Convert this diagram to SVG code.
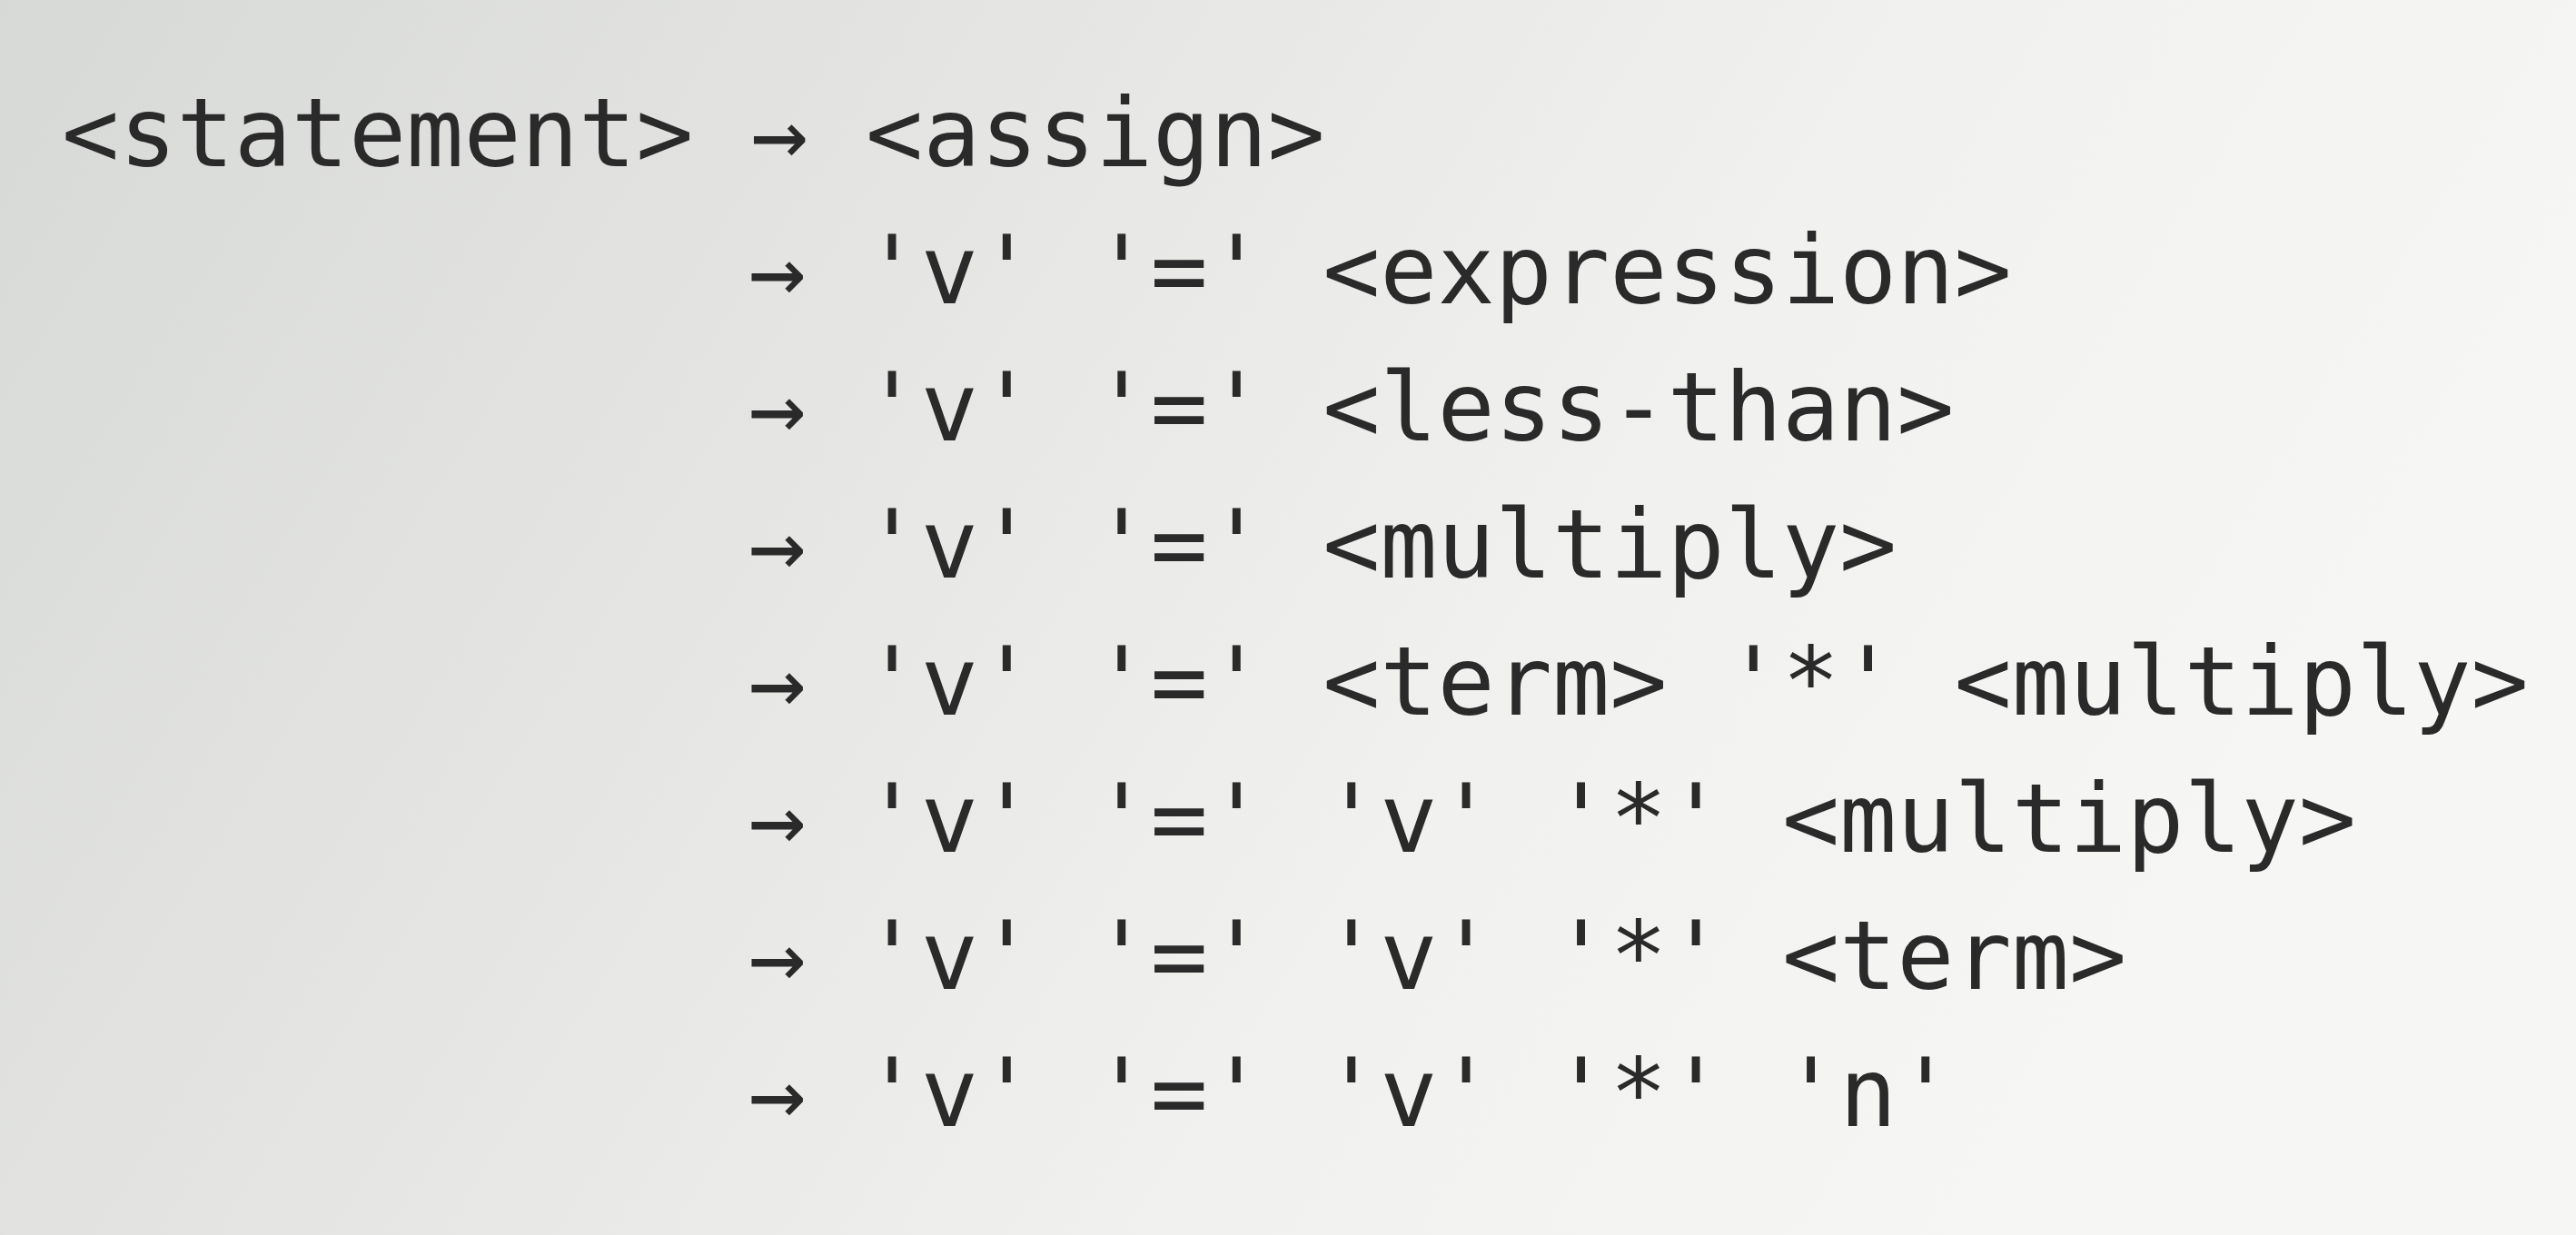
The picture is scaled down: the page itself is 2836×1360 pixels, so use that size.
<svg xmlns="http://www.w3.org/2000/svg" width="2836" height="1360" viewBox="0 0 2836 1360">
  <defs>
    <linearGradient id="bg" x1="0" y1="0" x2="1" y2="0.3">
      <stop offset="0" stop-color="#d7d9d7"/>
      <stop offset="0.35" stop-color="#e4e5e3"/>
      <stop offset="0.7" stop-color="#f1f1ef"/>
      <stop offset="1" stop-color="#f6f6f4"/>
    </linearGradient>
  </defs>
  <style>
    .t { font-family: "DejaVu Sans Mono", "Liberation Mono", monospace; font-size: 105px; fill: #2a2a2a; white-space: pre; }
  </style>
  <rect width="2836" height="1360" fill="url(#bg)"/>
  <g id="line1"><text class="t" x="68" y="183" xml:space="preserve">&lt;statement&gt; → &lt;assign&gt;</text></g>
  <g id="line2"><text class="t" x="824" y="334" xml:space="preserve">→ 'v' '=' &lt;expression&gt;</text></g>
  <g id="line3"><text class="t" x="824" y="485" xml:space="preserve">→ 'v' '=' &lt;less-than&gt;</text></g>
  <g id="line4"><text class="t" x="824" y="636" xml:space="preserve">→ 'v' '=' &lt;multiply&gt;</text></g>
  <g id="line5"><text class="t" x="824" y="787" xml:space="preserve">→ 'v' '=' &lt;term&gt; '*' &lt;multiply&gt;</text></g>
  <g id="line6"><text class="t" x="824" y="938" xml:space="preserve">→ 'v' '=' 'v' '*' &lt;multiply&gt;</text></g>
  <g id="line7"><text class="t" x="824" y="1089" xml:space="preserve">→ 'v' '=' 'v' '*' &lt;term&gt;</text></g>
  <g id="line8"><text class="t" x="824" y="1240" xml:space="preserve">→ 'v' '=' 'v' '*' 'n'</text></g>
  <g id="connectors"/>
</svg>
